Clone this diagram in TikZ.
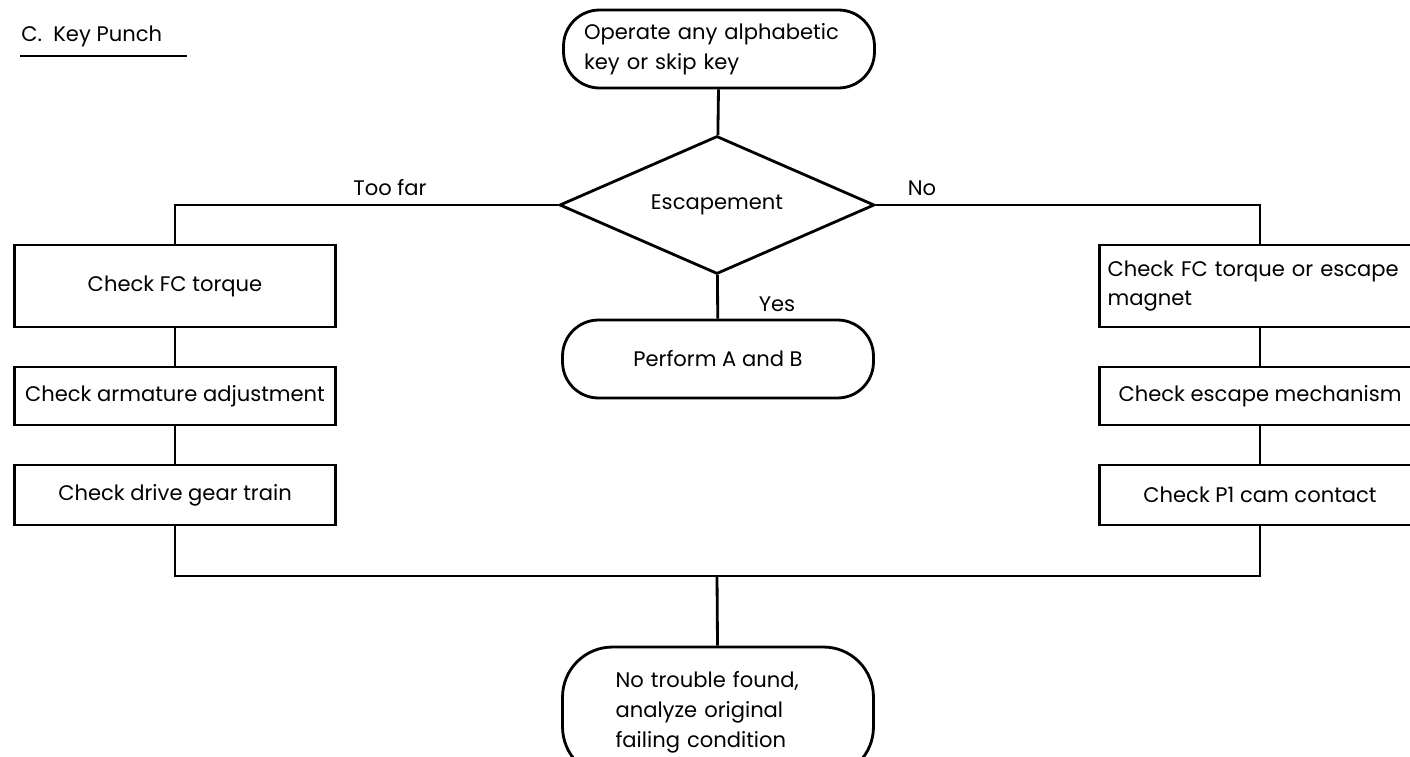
\documentclass[tikz,border=0pt]{standalone}
\usepackage{fontspec}
\setmainfont{Poppins}
\usetikzlibrary{shapes.geometric}
\begin{document}
\tikzset{
  term/.style={draw,line width=1.6pt,rounded corners=0.72cm,minimum width=6.22cm,minimum height=1.56cm,inner sep=2pt},
  chkbox/.style={draw,line width=1.6pt,minimum width=6.42cm,inner sep=2pt},
  decision/.style={draw,diamond,aspect=2.3,line width=1.6pt,minimum width=6.3cm,minimum height=2.76cm,inner sep=0pt},
  lbl/.style={inner sep=1pt}
}
\begin{tikzpicture}[x=0.02cm,y=-0.02cm,line width=1.6pt,font=\fontsize{12}{17}\selectfont]
      \clip (0,0) rectangle (1410,757);
      \node[anchor=base west,inner sep=0pt] (title) at (20,42) {C.\ \ Key Punch};
      \draw[line width=1.2pt] (20,56) -- (187,56);
      \node[term,align=left,text width=5.4cm] (start) at (719,49) {Operate any alphabetic\\key or skip key};
      \node[decision] (esc) at (717,205) {Escapement};
      \node[term] (perf) at (718,359) {Perform A and B};
      \node[chkbox,minimum height=1.64cm] (l1) at (175,286) {Check FC torque};
      \node[chkbox,minimum height=1.16cm] (l2) at (175,396) {Check armature adjustment};
      \node[chkbox,minimum height=1.2cm] (l3) at (175,495) {Check drive gear train};
      \node[chkbox,minimum height=1.64cm,align=left,text width=6.1cm] (r1) at (1260,286) {Check FC torque or escape\\magnet};
      \node[chkbox,minimum height=1.16cm] (r2) at (1260,396) {Check escape mechanism};
      \node[chkbox,minimum height=1.2cm] (r3) at (1260,495) {Check P1 cam contact};
      \node[term,rounded corners=1cm,minimum height=2.6cm,align=left,text width=4.1cm] (nt) at (718,712) {No trouble found,\\analyze original\\failing condition};
      \coordinate (j) at (717,576);
      \draw (start) -- (esc);
      \draw (esc.west) -| (l1.north);
      \draw (esc.east) -| (r1.north);
      \draw (esc) -- (perf);
      \draw (l1) -- (l2);
      \draw (l2) -- (l3);
      \draw (r1) -- (r2);
      \draw (r2) -- (r3);
      \draw (l3.south) |- (j) -| (r3.south);
      \draw (j) -- (nt);
      \node[lbl] (toofar) at (390,188) {Too far};
      \node[lbl] (no) at (922,188) {No};
      \node[lbl] (yes) at (777,304) {Yes};
    \end{tikzpicture}
\end{document}
